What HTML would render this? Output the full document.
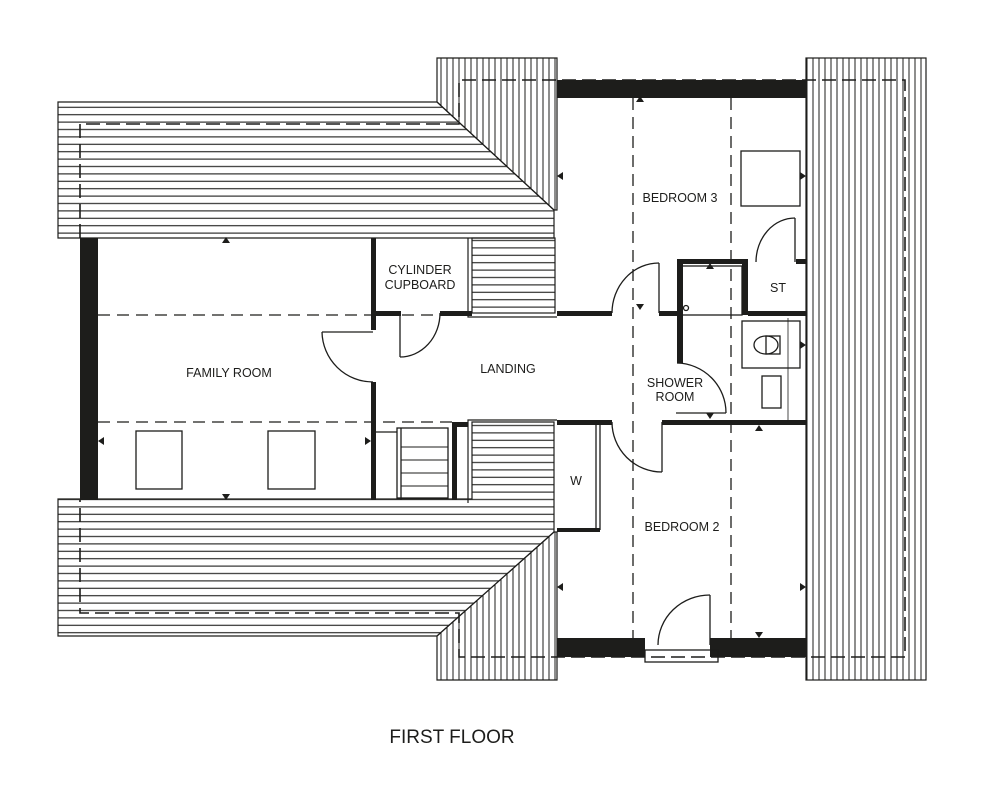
<!DOCTYPE html>
<html><head><meta charset="utf-8"><style>
html,body{margin:0;padding:0;background:#fff;width:1000px;height:795px;overflow:hidden}
svg{display:block}
text{font-family:"Liberation Sans",sans-serif;fill:#1d1d1b}
</style></head><body>
<svg width="1000" height="795" viewBox="0 0 1000 795" xmlns="http://www.w3.org/2000/svg">
<defs>
<pattern id="h" patternUnits="userSpaceOnUse" width="10" height="7.4"><line x1="0" y1="3.7" x2="10" y2="3.7" stroke="#1d1d1b" stroke-width="1.1"/></pattern>
<pattern id="v" patternUnits="userSpaceOnUse" width="6" height="10"><line x1="3" y1="0" x2="3" y2="10" stroke="#1d1d1b" stroke-width="1"/></pattern>
</defs>
<g stroke="#1d1d1b" fill="none" stroke-width="1.2">
<!-- top roof -->
<polygon points="58,102 437,102 554,210 554,238 58,238" fill="url(#h)"/>
<polygon points="437,58 557,58 557,210 554,210 437,102" fill="url(#v)"/>
<rect x="472" y="238" width="83" height="75" fill="url(#h)"/>
<polyline points="468,238 468,317 557,317"/>
<!-- bottom roof -->
<polygon points="58,499 472,499 472,422 554,422 554,532 437,636 58,636" fill="url(#h)"/>
<polygon points="554,532 557,532 557,680 437,680 437,636" fill="url(#v)"/>
<polyline points="468,503 468,420 557,420"/>
<!-- right block -->
<rect x="806" y="58" width="120" height="622" fill="url(#v)"/>
</g>
<!-- white bands along roof outer lines -->
<g stroke="#1d1d1b" fill="none" stroke-width="1.6" stroke-dasharray="14,6">
<polyline points="80,238 80,124 459,124 459,80 905,80 905,657 459,657 459,613 80,613 80,500"/>
</g>
<!-- black walls -->
<g fill="#1d1d1b">
<rect x="557" y="80" width="249" height="18"/>
<rect x="557" y="638" width="88" height="19"/>
<rect x="710" y="638" width="96" height="19"/>
<rect x="80" y="238" width="18" height="262"/>
<rect x="371" y="238" width="5" height="92"/>
<rect x="371" y="382" width="5" height="118"/>
<rect x="371" y="311" width="30" height="5"/>
<rect x="440" y="311" width="32" height="5"/>
<rect x="557" y="311" width="55" height="5"/>
<rect x="659" y="311" width="18" height="5"/>
<rect x="452" y="422" width="16" height="5"/>
<rect x="452" y="422" width="5" height="78"/>
<rect x="557" y="420" width="55" height="5"/>
<rect x="662" y="420" width="144" height="5"/>
<rect x="677" y="259" width="6" height="104"/>
<rect x="677" y="259" width="71" height="5"/>
<rect x="742" y="259" width="6" height="56"/>
<rect x="748" y="311" width="58" height="5"/>
<rect x="796" y="259" width="10" height="5"/>
</g>
<g stroke="#1d1d1b" fill="none" stroke-width="1.3">
<!-- dashed internal -->
<line x1="98" y1="315" x2="440" y2="315" stroke-dasharray="12,7"/>
<line x1="98" y1="422" x2="452" y2="422" stroke-dasharray="12,7"/>
<line x1="633" y1="98" x2="633" y2="638" stroke-dasharray="12,7"/>
<line x1="731" y1="98" x2="731" y2="638" stroke-dasharray="12,7"/>
<!-- skylights -->
<rect x="136" y="431" width="46" height="58"/>
<rect x="268" y="431" width="47" height="58"/>
<rect x="741" y="151" width="59" height="55"/>
<!-- doors -->
<line x1="322" y1="332" x2="373" y2="332"/>
<path d="M322,332 A51,51 0 0 0 373,382"/>
<line x1="400" y1="313" x2="400" y2="357"/>
<path d="M400,357 A40,44 0 0 0 440,313"/>
<line x1="659" y1="263" x2="659" y2="313"/>
<path d="M659,263 A47,50 0 0 0 612,313"/>
<line x1="795" y1="218" x2="795" y2="262"/>
<path d="M795,218 A39,44 0 0 0 756,262"/>
<line x1="676" y1="413" x2="726" y2="413"/>
<path d="M677,363 A50,50 0 0 1 726,413"/>
<line x1="662" y1="422" x2="662" y2="472"/>
<path d="M612,422 A50,50 0 0 0 662,472"/>
<line x1="710" y1="595" x2="710" y2="645"/>
<path d="M710,595 A52,50 0 0 0 658,645"/>
<rect x="645" y="650" width="73" height="12"/>
<!-- shower tray, toilet, basin -->
<rect x="681" y="266" width="61" height="49"/>
<circle cx="686" cy="308" r="2.5"/>
<rect x="742" y="321" width="58" height="47"/>
<rect x="766" y="336" width="14" height="18"/>
<ellipse cx="766" cy="345" rx="12" ry="9"/>
<rect x="762" y="376" width="19" height="32"/>
<line x1="788" y1="318" x2="788" y2="422" stroke-width="0.8"/>
<!-- wardrobe -->
<line x1="557" y1="530" x2="600" y2="530" stroke-width="4"/>
<line x1="596" y1="425" x2="596" y2="530"/>
<line x1="600" y1="425" x2="600" y2="530"/>
<!-- stairs -->
<rect x="397" y="428" width="51" height="70"/>
<line x1="376" y1="432" x2="397" y2="432"/>
<line x1="401" y1="428" x2="401" y2="500"/>
<g stroke-width="1"><line x1="401" y1="447" x2="448" y2="447"/><line x1="401" y1="460" x2="448" y2="460"/><line x1="401" y1="473" x2="448" y2="473"/><line x1="401" y1="486" x2="448" y2="486"/></g>
</g>
<!-- arrows -->
<g fill="#1d1d1b">
<path d="M222,243 l4,-6 l4,6z"/>
<path d="M222,494 l4,6 l4,-6z"/>
<path d="M104,437 l-6,4 l6,4z"/>
<path d="M365,437 l6,4 l-6,4z"/>
<path d="M636,102 l4,-6 l4,6z"/>
<path d="M563,172 l-6,4 l6,4z"/>
<path d="M800,172 l6,4 l-6,4z"/>
<path d="M636,304 l4,6 l4,-6z"/>
<path d="M706,269 l4,-6 l4,6z"/>
<path d="M683,341 l-6,4 l6,4z"/>
<path d="M800,341 l6,4 l-6,4z"/>
<path d="M706,413 l4,6 l4,-6z"/>
<path d="M755,431 l4,-6 l4,6z"/>
<path d="M563,583 l-6,4 l6,4z"/>
<path d="M800,583 l6,4 l-6,4z"/>
<path d="M755,632 l4,6 l4,-6z"/>
</g>
<!-- labels -->
<g font-size="12.5" text-anchor="middle">
<text x="420" y="274">CYLINDER</text>
<text x="420" y="289">CUPBOARD</text>
<text x="229" y="377">FAMILY ROOM</text>
<text x="508" y="373">LANDING</text>
<text x="680" y="202">BEDROOM 3</text>
<text x="778" y="292">ST</text>
<text x="675" y="387">SHOWER</text>
<text x="675" y="401">ROOM</text>
<text x="576" y="485">W</text>
<text x="682" y="531">BEDROOM 2</text>
</g>
<text x="452" y="743" font-size="19" text-anchor="middle">FIRST FLOOR</text>
</svg>
</body></html>
